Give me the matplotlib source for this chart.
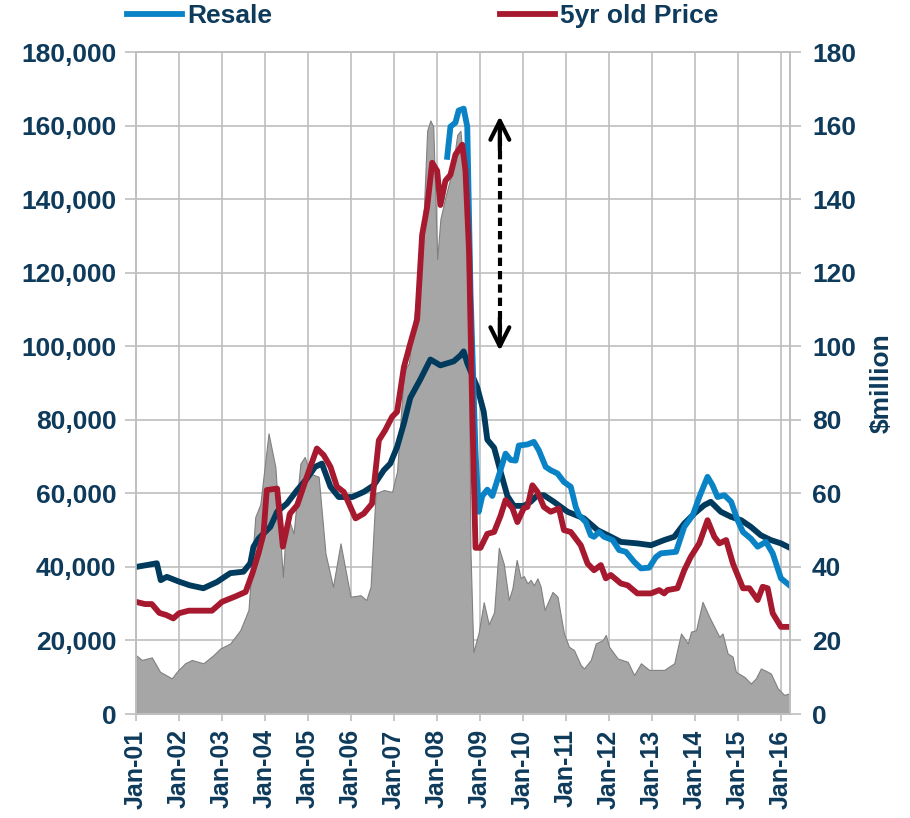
import numpy as np
import matplotlib
matplotlib.use("Agg")
from matplotlib import pyplot as plt
from matplotlib.lines import Line2D

# months since Jan-2001
new_m = [0, 3, 5.8, 6.9, 8.6, 12, 15, 18.8, 22.6, 26.3, 30, 31.9, 32.8, 34.2, 37.5, 39.4,
         42.1, 45, 47.7, 50, 51.9, 54.3, 56.6, 60.4, 63.6, 66.4, 69.2, 71, 72.9, 74.8, 76.6,
         79.4, 82.2, 85, 88.7, 90.6, 91.5, 92.5, 95.3, 97.1, 98.1, 100, 101.8, 103.7, 105.5,
         108.3, 110.2, 112.1, 113.9, 116.7, 120.5, 125.1, 128.9, 132.6, 135.4, 140, 143.8,
         147.5, 150.3, 153.1, 155.9, 158.7, 160.5, 163.3, 166.2, 169, 171.7, 174.5, 177.3,
         180.1, 183]
new_v = [40.0, 40.5, 41.0, 36.4, 37.3, 36.0, 35.0, 34.2, 35.9, 38.3, 38.7, 41, 45.5, 47.7,
         50.9, 55, 57.2, 60.9, 64, 67.2, 68.1, 61.8, 59, 59, 60.4, 62.2, 66.3, 68.1, 72.6, 79,
         86, 91, 96.4, 94.8, 95.9, 97.5, 98.6, 95.4, 88.8, 82.2, 74.6, 72.4, 65.9, 59.3, 56.6,
         56.6, 57.7, 59.5, 59.5, 57.7, 55, 53.2, 50, 48.2, 46.8, 46.4, 45.9, 47.3, 48.2, 51.8,
         54.5, 56.8, 57.7, 55, 53.6, 52.7, 50.9, 48.6, 47.3, 46.4, 45]

resale_m = [86.9, 87.8, 89.2, 90.1, 91.5, 92.5, 93.4, 94.8, 95.7, 96.7, 98.1, 99.5, 101.3,
            103.2, 104.6, 106, 106.9, 109.3, 111.1, 112.5, 114.4, 115.8, 117.7, 119.5, 121.4,
            122.8, 123.7, 125.6, 127, 127.9, 129.3, 130.7, 133.1, 134.9, 136.8, 139.1, 141,
            143.3, 145.2, 146.6, 150.8, 153.1, 155.5, 157.3, 159.6, 161, 162.4, 164.3, 166.2,
            168, 169.5, 171.7, 173.6, 175.9, 177.8, 180.1, 183]
resale_v = [151.5, 159.7, 160.8, 164.1, 164.6, 159.7, 115, 71.3, 55, 59.3, 61, 59.3, 64.8,
            70.8, 69.1, 68.9, 73, 73.3, 74, 71.7, 67.2, 66.3, 65.4, 63.1, 61.8, 56.3, 54.1,
            52.2, 48.6, 48.2, 49.5, 48.2, 47.3, 44.6, 44.1, 41.4, 39.6, 39.8, 42.7, 43.7, 44.1,
            50.9, 54.1, 59, 64.5, 62.2, 59, 59.5, 57.7, 52.7, 49.5, 47.7, 45.5, 46.8, 43.7,
            36.9, 34.6]

old_m = [0, 2.5, 4.4, 6.5, 8.5, 10.4, 12, 14.7, 21.2, 24, 27.8, 30.6, 32.5, 34.2, 35.6, 36.5,
         39.4, 41, 43, 45, 47.7, 50.5, 52.4, 54.3, 56.1, 58, 61.3, 63.6, 65.9, 67.8, 69.6,
         71.5, 72.9, 74.8, 76.6, 78.5, 79.9, 81.3, 82.7, 84.1, 85, 86.4, 87.8, 89.2, 91.1, 92,
         93, 93.9, 94.8, 96.2, 98.1, 100, 101.8, 103.2, 105.1, 106.5, 108.3, 109.3, 110.7,
         112.1, 113.9, 115.8, 118.1, 119.5, 121.4, 124.2, 126.1, 127.9, 129.8, 131.2, 132.6,
         135.4, 137.3, 140, 143.8, 146.1, 147.5, 148.4, 151.2, 153.1, 154.9, 157.3, 159.6,
         161.5, 162.9, 164.8, 166.7, 169.5, 171.3, 173.6, 175, 176.4, 177.8, 180.1, 183]
old_v = [30.5, 29.9, 29.9, 27.5, 26.9, 26, 27.4, 28.1, 28.1, 30.5, 32, 33.2, 38.3, 43.7, 49,
         60.9, 61.3, 45.5, 54.5, 56.8, 64.5, 72.2, 70.4, 67.2, 61.8, 60.4, 53.2, 54.5, 57.2,
         74.4, 77.2, 80.8, 82.2, 94.3, 100.8, 107.3, 130.3, 137.9, 149.9, 147.7, 138.4, 145,
         146.6, 152.1, 154.8, 147.7, 125.9, 82.2, 45.2, 45.2, 49, 49.5, 53.9, 58.2, 56, 52.2,
         56, 56.3, 62.2, 60.4, 56.3, 55, 55.9, 50, 49.5, 45.9, 40.9, 39.1, 40.5, 36.9, 37.8,
         35.5, 35, 32.8, 32.8, 33.7, 32.8, 33.7, 34.2, 39.1, 42.7, 46.4, 52.7, 48.2, 46.4,
         47.3, 40.9, 34.2, 34.2, 31, 34.6, 34.2, 27.4, 23.7, 23.7]

sales_m = [0, 1.6, 4.4, 6.7, 10, 11.4, 13.7, 15.6, 18.8, 21.6, 23.5, 26.3, 29.1, 31.4, 33.3,
           34.7, 37, 38.9, 41, 42.1, 44, 45.9, 47.1, 48.7, 51, 52.9, 55, 57.1, 59.9, 62.7,
           64.3, 65.5, 66.9, 69.2, 71.5, 72.9, 74.8, 76.2, 78, 79.9, 81.3, 82.2, 83, 84.1, 85,
           86.4, 88.3, 89.7, 90.6, 92, 93, 93.4, 94.2, 95.7, 97.1, 98.5, 100, 101.3, 102.7,
           104.1, 105.1, 106.3, 107.4, 108.3, 109.3, 110.2, 111.1, 112.1, 113, 114.1, 116.3,
           117.7, 119.5, 120.9, 122.3, 124.2, 125.1, 127, 128.4, 130.3, 131.2, 132.1, 134.5,
           137.3, 139.1, 141, 143.3, 147.5, 150.3, 152.2, 154.1, 155, 156.4, 158.2, 160.1,
           161.5, 162.9, 163.8, 165.2, 166.6, 167.5, 169.9, 171.7, 173.1, 174.5, 176.4, 177.3,
           179.2, 181, 182.4, 183]
sales_v = [16, 14.7, 15.4, 11.5, 9.7, 11.5, 13.8, 14.7, 13.8, 16, 17.8, 19.2, 22.8, 28.3, 53.6,
           57, 76.3, 67.2, 37.3, 54.5, 49.1, 68.1, 69.9, 65.4, 64.5, 43.7, 34.6, 46.4, 31.9,
           32.3, 31, 34.6, 60, 60.9, 60.4, 66, 93.2, 95.4, 110.6, 125.9, 158.6, 161.4, 159.7,
           123.7, 134.6, 140.6, 147.7, 157.5, 158.6, 142.3, 93.2, 44.1, 16.8, 22.2, 30.4, 24.4,
           27.7, 45.2, 40.8, 31, 34.2, 41.9, 37, 37.5, 35.5, 36.5, 35, 36.9, 34.6, 28.3, 33.2,
           31.9, 21.9, 18.3, 17.4, 13.3, 12.4, 14.7, 19.2, 20.1, 21.5, 18.3, 15.1, 14.2, 10.6,
           13.8, 12, 12, 13.8, 21.9, 19.2, 22.4, 22.8, 30.5, 26.4, 23.7, 21, 21.9, 16.5, 15.6,
           11.5, 10.1, 8.3, 9.7, 12.4, 11.5, 11, 7, 5.2, 5.6, 7.4]

year_labels = ["Jan-%02d" % y for y in range(1, 17)]

# Style
txt = "#0E3A5B"
grid_c = "#BFBFBF"
plt.rcParams["font.family"] = ["Liberation Sans", "DejaVu Sans"]
plt.rcParams["font.weight"] = "bold"

fig = plt.figure(figsize=(9.1, 8.18), dpi=100)
ax2 = fig.add_axes([0.1495, 0.1271, 0.7185, 0.8093])
ax = ax2.twinx()
ax.yaxis.tick_left()
ax2.yaxis.tick_right()
ax2.yaxis.set_label_position("right")
ax.set_zorder(ax2.get_zorder() + 1)
ax.patch.set_visible(False)

# Area on secondary axis ($million)
ax2.fill_between(sales_m, sales_v, 0, color="#A6A6A6", edgecolor="#808080", lw=0.8, zorder=2)
ax2.set_axisbelow(True)
ax2.grid(True, color=grid_c, lw=1.2, zorder=0)

# Lines on primary axis
k = 1000
lw = 4.2
ax.plot(new_m, np.array(new_v) * k, color="#003A5D", lw=lw, solid_joinstyle="round")
ax.plot(resale_m, np.array(resale_v) * k, color="#0A83C6", lw=lw, solid_joinstyle="round")
ax.plot(old_m, np.array(old_v) * k, color="#A6192E", lw=lw, solid_joinstyle="round")

# Dashed double arrow
arr_x = 101.6
ax.plot([arr_x, arr_x], [100000, 161000], color="black", lw=3, ls=(0, (2.0, 1.2)))
ax.annotate("", xy=(arr_x, 163300), xytext=(arr_x, 152500),
            arrowprops=dict(arrowstyle="->", lw=3, color="black", mutation_scale=34))
ax.annotate("", xy=(arr_x, 98000), xytext=(arr_x, 108500),
            arrowprops=dict(arrowstyle="->", lw=3, color="black", mutation_scale=34))

for a in (ax, ax2):
    a.set_xlim(0, 182.6)
    for s in a.spines.values():
        s.set_color(grid_c)
        s.set_linewidth(1.2)

ax.set_ylim(0, 180000)
ax2.set_ylim(0, 180)
ax.set_yticks(np.arange(0, 180001, 20000))
ax.set_yticklabels(["{:,}".format(v) for v in range(0, 180001, 20000)])
ax2.set_yticks(np.arange(0, 181, 20))
ax2.set_xticks(np.arange(0, 181, 12))
ax2.set_xticklabels(year_labels, rotation=90)
ax.tick_params(axis="x", which="both", bottom=False, top=False,
               labelbottom=False, labeltop=False)

ax.tick_params(axis="y", colors=grid_c, labelcolor=txt, labelsize=19, length=8, width=1.2, pad=6)
ax2.tick_params(axis="y", colors=grid_c, labelcolor=txt, labelsize=19, length=8, width=1.2, pad=8)
ax2.tick_params(axis="x", colors=grid_c, labelcolor=txt, labelsize=18, length=5, width=1.2, pad=6)
ax2.set_ylabel("$million", color=txt, fontsize=19, fontweight="bold", labelpad=10)

handles = [Line2D([], [], color="#0A83C6", lw=lw), Line2D([], [], color="#A6192E", lw=lw)]
fig.legend(handles, ["Resale", "5yr old Price"], loc="center left",
           bbox_to_anchor=(127 / 910, 1 - 16 / 818), ncol=2, frameon=False,
           fontsize=19, labelcolor=txt, handlelength=2.1, handletextpad=0.2,
           columnspacing=8.6, borderpad=0, borderaxespad=0)

plt.savefig("out.png", dpi=100)
plt.close()
